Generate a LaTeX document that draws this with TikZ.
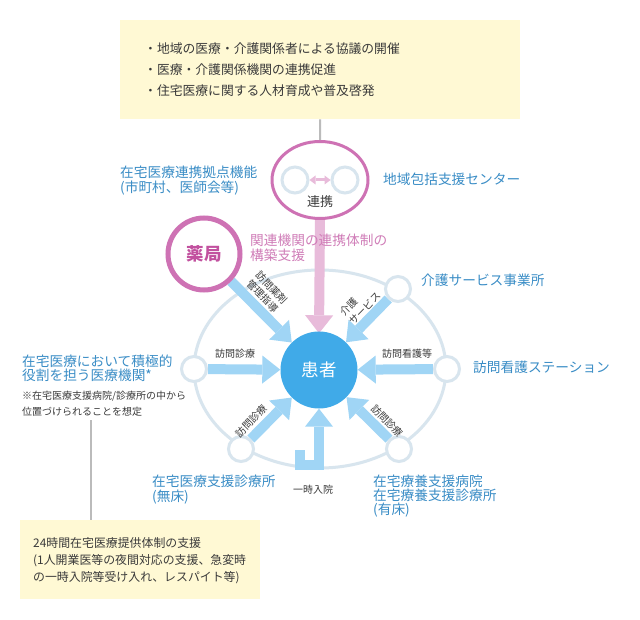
\documentclass[tikz,border=0pt]{standalone}
\usepackage{fontspec}
\setmainfont{Noto Sans CJK JP}
\usetikzlibrary{arrows.meta,shapes.geometric}
\definecolor{ybox}{HTML}{FFF9D4}
\definecolor{lblue}{HTML}{3A8DC6}
\definecolor{pinkc}{HTML}{CE72B4}
\definecolor{pinkd}{HTML}{C2519F}
\definecolor{pinkt}{HTML}{D07DB8}
\definecolor{pinka}{HTML}{E8BBDA}
\definecolor{barrow}{HTML}{A0D5F5}
\definecolor{patc}{HTML}{40AAE8}
\definecolor{ringc}{HTML}{D8E5EE}
\definecolor{grayl}{HTML}{BBBBBB}
\definecolor{txt}{HTML}{3A3A3A}
\pgfdeclarelayer{bg}
\pgfsetlayers{bg,main}
\begin{document}
\begin{tikzpicture}[x=1pt,y=-1pt,
  lbl/.style={anchor=base west,inner sep=0pt,text=lblue,font=\fontsize{13.7}{16}\selectfont},
  boxtxt/.style={anchor=base west,inner sep=0pt,text=txt,font=\fontsize{12.8}{15}\selectfont},
  btxt/.style={anchor=base west,inner sep=0pt,text=txt,font=\fontsize{11.9}{14}\selectfont},
  small/.style={inner sep=0pt,text=txt,font=\fontsize{10}{12.5}\selectfont},
  ptxt/.style={anchor=base west,inner sep=0pt,text=pinkt,font=\fontsize{13.7}{16}\selectfont},
  smallc/.style={circle,draw=ringc,line width=3pt,fill=white,minimum size=25pt,inner sep=0pt},
  yellowbox/.style={fill=ybox,inner sep=0pt,anchor=north west},
  barr/.style={draw=barrow,line width=10pt,-{Triangle[width=28pt,length=18pt,line width=0pt]}},
  parr/.style={draw=pinka,line width=10pt,-{Triangle[width=28pt,length=18pt,line width=0pt]}},
  gline/.style={draw=grayl,line width=2pt}]
\useasboundingbox (0,0) rectangle (640,620);

% top box
\node[yellowbox,minimum width=400pt,minimum height=99pt] (topbox) at (120,20) {};
\node[boxtxt] (t1) at (144,54) {・地域の医療・介護関係者による協議の開催};
\node[boxtxt] (t2) at (144,75) {・医療・介護関係機関の連携促進};
\node[boxtxt] (t3) at (144,96) {・住宅医療に関する人材育成や普及啓発};

% renkei ellipse
\node[ellipse,draw=pinkc,line width=3pt,fill=white,minimum width=96pt,minimum height=77pt,inner sep=0pt] (renkei) at (320,180) {};
\node[circle,draw=ringc,line width=3pt,minimum size=26pt,inner sep=0pt] (rc1) at (295,180) {};
\node[circle,draw=ringc,line width=3pt,minimum size=26pt,inner sep=0pt] (rc2) at (345,180) {};
\draw[pinka,line width=3pt,{Triangle[width=9pt,length=6pt,line width=0pt]}-{Triangle[width=9pt,length=6pt,line width=0pt]}] (rc1) -- (rc2);
\node[inner sep=0pt,anchor=base,text=txt,font=\fontsize{13}{15}\selectfont] (renkeilbl) at (320,207) {連携};
\draw[gline] (topbox.south) -- (renkei.north);

\node[lbl] (l1a) at (120,178) {在宅医療連携拠点機能};
\node[lbl] (l1b) at (120,192.5) {(市町村、医師会等)};
\node[lbl] (l2) at (383,185) {地域包括支援センター};

% pharmacy
\node[circle,draw=pinkc,line width=5pt,fill=white,minimum size=72pt,inner sep=0pt,text=pinkd,font=\fontsize{17.5}{20}\selectfont\bfseries] (yakkyoku) at (204,254) {薬局};
\node[ptxt] (p1) at (250,246) {関連機関の連携体制の};
\node[ptxt] (p2) at (250,261) {構築支援};

% patient and satellite circles
\node[circle,fill=patc,minimum size=77pt,inner sep=0pt,text=white,font=\fontsize{17.5}{20}\selectfont] (patient) at (319,370) {患者};
\node[smallc] (cl) at (194,369) {};
\node[smallc] (cr) at (447,369) {};
\node[smallc] (ctr) at (398,289) {};
\node[smallc] (cbl) at (241,449) {};
\node[smallc] (cbr) at (399,449) {};
\coordinate (jst) at (300,450);

\begin{pgfonlayer}{bg}
\fill[white] (0,0) rectangle (640,620);
\draw[ringc,line width=3pt] (320,369) ellipse [x radius=126,y radius=99];
\draw[parr] (renkei.south) -- ([yshift=-2pt]patient.north);
\draw[barr] (cl) -- (patient);
\draw[barr] (cr) -- (patient);
\draw[barr] (yakkyoku) -- (patient);
\draw[barr] (ctr) -- (patient);
\draw[barr] (cbl) -- (patient);
\draw[barr] (cbr) -- (patient);
\draw[barr] (jst) -- (300,465) -- (319,465) -- (patient.south);
\end{pgfonlayer}

% arrow labels
\node[small,anchor=base] (a1) at (235,357) {訪問診療};
\node[small,anchor=base] (a2) at (407,358) {訪問看護等};
\node[small,align=center,rotate=-46] (a3) at (267,292) {訪問薬剤\\管理指導};
\node[small,align=left,rotate=46] (a4) at (360,304) {介護\\サービス};
\node[small,rotate=46] (a5) at (251,421) {訪問診療};
\node[small,rotate=-46] (a6) at (387,421) {訪問診療};
\node[small,anchor=base] (a7) at (313,493) {一時入院};

% outer labels
\node[lbl] (l3) at (421,286) {介護サービス事業所};
\node[lbl] (l4) at (473,373) {訪問看護ステーション};
\node[lbl] (l5a) at (22,366.5) {在宅医療において積極的};
\node[lbl] (l5b) at (22,381) {役割を担う医療機関*};
\node[small,anchor=base west] (n1) at (22,399) {※在宅医療支援病院/診療所の中から};
\node[small,anchor=base west] (n2) at (22,415) {位置づけられることを想定};
\node[lbl] (l6a) at (152,486) {在宅医療支援診療所};
\node[lbl] (l6b) at (152,501) {(無床)};
\node[lbl] (l7a) at (373,486) {在宅療養支援病院};
\node[lbl] (l7b) at (373,500) {在宅療養支援診療所};
\node[lbl] (l7c) at (373,514) {(有床)};

% bottom box
\node[yellowbox,minimum width=240pt,minimum height=79pt] (botbox) at (20,520) {};
\coordinate (nend) at (91,420);
\draw[gline] (nend) -- (botbox.north -| nend);
\node[btxt] (b1) at (33,547.5) {24時間在宅医療提供体制の支援};
\node[btxt] (b2) at (33,564.5) {(1人開業医等の夜間対応の支援、急変時};
\node[btxt] (b3) at (33,581.5) {の一時入院等受け入れ、レスパイト等)};
\end{tikzpicture}
\end{document}
